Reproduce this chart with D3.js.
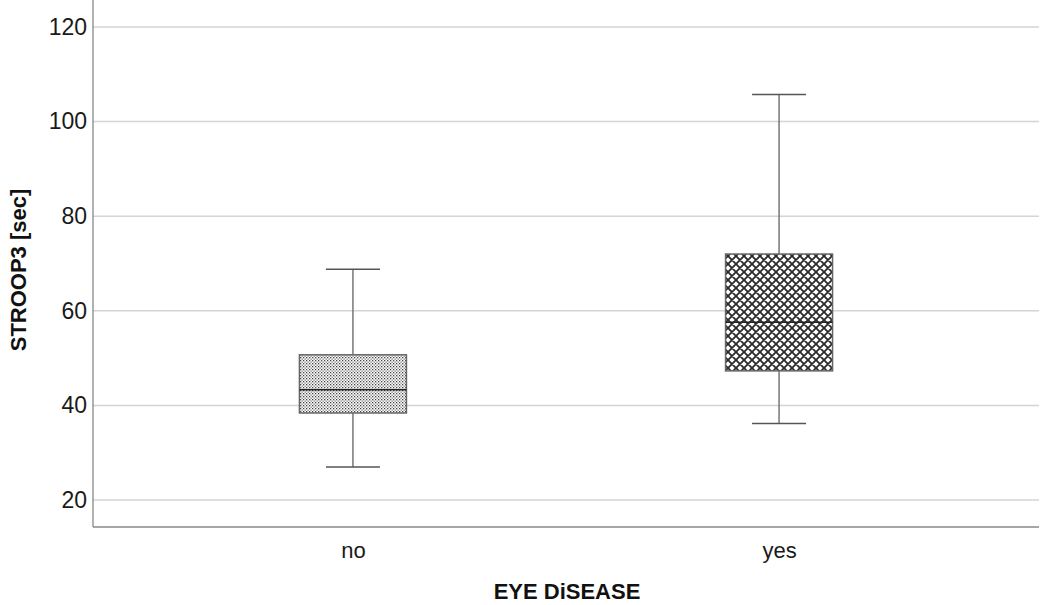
<!DOCTYPE html>
<html>
<head>
<meta charset="utf-8">
<script src="https://cdnjs.cloudflare.com/ajax/libs/d3/7.8.5/d3.min.js"></script>
<style>
  body { margin: 0; background: #fff; }
  text { font-family: "Liberation Sans", Arial, sans-serif; }
</style>
</head>
<body>
<svg id="chart" width="1040" height="605"></svg>
<script>
// categories and box statistics
var groups = ["no", "yes"];
var whiskerLow = [27.0, 36.2];
var q1 = [38.4, 47.3];
var median = [43.3, 57.6];
var q3 = [50.7, 72.0];
var whiskerHigh = [68.8, 105.7];
var yTicks = [20, 40, 60, 80, 100, 120];

var svg = d3.select("#chart");
// note: "top" is a reserved window property, so use plot* names
var plotLeft = 93, plotRight = 1039, plotTop = 0, plotBottom = 527;

var y = d3.scaleLinear().domain([14.3, 125.7]).range([plotBottom, plotTop]);
var x = d3.scalePoint().domain(groups).range([plotLeft, plotRight]).padding(0.61);
var boxW = 107, capW = 54;

// fill patterns
var defs = svg.append("defs");
var dots = defs.append("pattern")
    .attr("id", "dots").attr("patternUnits", "userSpaceOnUse")
    .attr("width", 3).attr("height", 3);
dots.append("rect").attr("width", 3).attr("height", 3).attr("fill", "#fff");
dots.append("rect").attr("x", 0).attr("y", 0).attr("width", 1.3).attr("height", 1.3).attr("fill", "#444");
dots.append("rect").attr("x", 1.5).attr("y", 1.5).attr("width", 1.3).attr("height", 1.3).attr("fill", "#777");

var cross = defs.append("pattern")
    .attr("id", "cross").attr("patternUnits", "userSpaceOnUse")
    .attr("width", 8).attr("height", 8);
cross.append("rect").attr("width", 8).attr("height", 8).attr("fill", "#fff");
cross.append("path")
    .attr("d", "M-2,2 L2,-2 M0,8 L8,0 M6,10 L10,6 M-2,6 L2,10 M0,0 L8,8 M6,-2 L10,2")
    .attr("stroke", "#2a2a2a").attr("stroke-width", 1.8);
var fills = ["url(#dots)", "url(#cross)"];

// grid lines
svg.append("g").selectAll("line")
  .data(yTicks).enter().append("line")
    .attr("x1", plotLeft).attr("x2", plotRight)
    .attr("y1", function(d) { return y(d); })
    .attr("y2", function(d) { return y(d); })
    .attr("stroke", "#d4d4d4").attr("stroke-width", 1.5);

// y axis
var yAxis = svg.append("g")
    .attr("transform", "translate(" + plotLeft + ",0)")
    .call(d3.axisLeft(y).tickValues(yTicks).tickSize(0).tickPadding(6));
yAxis.select(".domain").remove();
yAxis.selectAll("text").attr("font-size", 23).attr("fill", "#1a1a1a")
    .style("font-family", "Liberation Sans, Arial, sans-serif");

// x axis
var xAxis = svg.append("g")
    .attr("transform", "translate(0," + plotBottom + ")")
    .call(d3.axisBottom(x).tickSize(0).tickPadding(15));
xAxis.select(".domain").remove();
xAxis.selectAll("text").attr("font-size", 22).attr("fill", "#1a1a1a")
    .style("font-family", "Liberation Sans, Arial, sans-serif");

svg.append("line")
    .attr("x1", plotLeft).attr("x2", plotLeft).attr("y1", plotTop).attr("y2", plotBottom)
    .attr("stroke", "#888").attr("stroke-width", 1.3);
svg.append("line")
    .attr("x1", plotLeft).attr("x2", plotRight).attr("y1", plotBottom).attr("y2", plotBottom)
    .attr("stroke", "#888").attr("stroke-width", 1.3);

// boxes
var boxes = svg.append("g").selectAll("g")
  .data(groups).enter().append("g");

boxes.append("line")
    .attr("x1", function(d) { return x(d); })
    .attr("x2", function(d) { return x(d); })
    .attr("y1", function(d, i) { return y(whiskerHigh[i]); })
    .attr("y2", function(d, i) { return y(whiskerLow[i]); })
    .attr("stroke", "#777").attr("stroke-width", 1.5);

boxes.append("line")
    .attr("x1", function(d) { return x(d) - capW / 2; })
    .attr("x2", function(d) { return x(d) + capW / 2; })
    .attr("y1", function(d, i) { return y(whiskerHigh[i]); })
    .attr("y2", function(d, i) { return y(whiskerHigh[i]); })
    .attr("stroke", "#555").attr("stroke-width", 1.5);

boxes.append("line")
    .attr("x1", function(d) { return x(d) - capW / 2; })
    .attr("x2", function(d) { return x(d) + capW / 2; })
    .attr("y1", function(d, i) { return y(whiskerLow[i]); })
    .attr("y2", function(d, i) { return y(whiskerLow[i]); })
    .attr("stroke", "#555").attr("stroke-width", 1.5);

boxes.append("rect")
    .attr("x", function(d) { return x(d) - boxW / 2; })
    .attr("width", boxW)
    .attr("y", function(d, i) { return y(q3[i]); })
    .attr("height", function(d, i) { return y(q1[i]) - y(q3[i]); })
    .attr("fill", function(d, i) { return fills[i]; })
    .attr("stroke", "#666").attr("stroke-width", 1.5);

boxes.append("line")
    .attr("x1", function(d) { return x(d) - boxW / 2; })
    .attr("x2", function(d) { return x(d) + boxW / 2; })
    .attr("y1", function(d, i) { return y(median[i]); })
    .attr("y2", function(d, i) { return y(median[i]); })
    .attr("stroke", "#222").attr("stroke-width", 1.5);

// axis titles
svg.append("text")
    .attr("transform", "translate(26," + 270 + ") rotate(-90)")
    .attr("text-anchor", "middle")
    .attr("font-size", 22).attr("font-weight", "bold").attr("fill", "#111")
    .text("STROOP3 [sec]");

svg.append("text")
    .attr("x", 567).attr("y", 599)
    .attr("text-anchor", "middle")
    .attr("font-size", 22).attr("font-weight", "bold").attr("fill", "#111")
    .text("EYE DiSEASE");
</script>
</body>
</html>
